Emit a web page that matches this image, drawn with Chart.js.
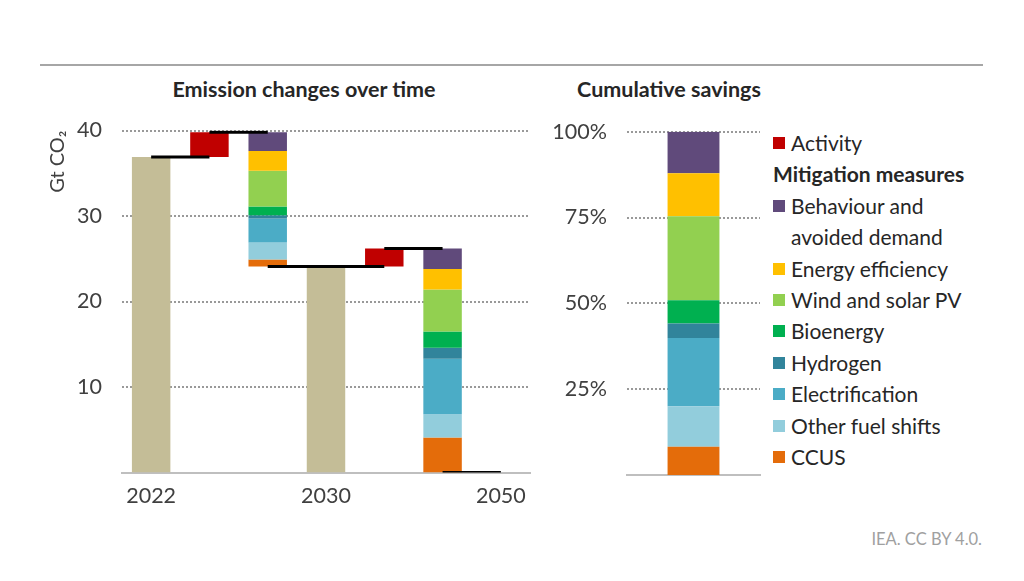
<!DOCTYPE html>
<html>
<head>
<meta charset="utf-8">
<script src="https://cdn.jsdelivr.net/npm/chart.js@4/dist/chart.umd.min.js"></script>
<style>
    body { margin: 0; background: #fff; font-family: Lato, "Open Sans", sans-serif; color: #262626; }
    #page { position: relative; width: 1024px; height: 581px; overflow: hidden; }
    .topline { position: absolute; left: 40px; top: 64px; width: 943px; height: 2px; background: #a6a6a6; }
    .title { position: absolute; top: 76px; font-weight: bold; font-size: 21.5px; text-align: center; }
    #leftWrap { position: absolute; left: 40px; top: 100px; width: 500px; height: 420px; }
    #rightWrap { position: absolute; left: 540px; top: 100px; width: 230px; height: 400px; }
    #legend { position: absolute; left: 773px; top: 127px; width: 210px; font-size: 21px; line-height: 31.4px; }
    #legend .item { display: flex; align-items: flex-start; }
    #legend .sq { width: 12px; height: 12px; flex: none; margin: 10px 6px 0 0; }
    #legend .head { font-weight: bold; }
    .source { position: absolute; right: 42px; top: 529px; font-size: 16.5px; color: #a0a0a0; }
</style>
</head>
<body>
<div id="page">
    <div class="topline"></div>
    <div class="title" style="left:139px;width:330px;">Emission changes over time</div>
    <div class="title" style="left:559px;width:220px;">Cumulative savings</div>
    <div id="leftWrap"><canvas id="changesChart"></canvas></div>
    <div id="rightWrap"><canvas id="savingsChart"></canvas></div>
    <div id="legend"></div>
    <div class="source">IEA. CC BY 4.0.</div>
</div>
<script>
const labels = ["2022", "", "", "2030", "", "", "2050"];
const totals = [36.9, null, null, 24.1, null, null, null];
const activity = [null, [36.9, 39.8], null, null, [24.1, 26.2], null, null];

const measureNames = ["Behaviour and avoided demand", "Energy efficiency", "Wind and solar PV", "Bioenergy",
    "Hydrogen", "Electrification", "Other fuel shifts", "CCUS"];
const measureColors = ["#604a7b", "#ffc000", "#92d050", "#00b050", "#31849b", "#4bacc6", "#92cddc", "#e46c0a"];
// Gt CO2 cut by each measure, top of the bar downwards
const cuts2030 = [2.2, 2.3, 4.2, 1.0, 0.4, 2.8, 2.0, 0.8];
const cuts2050 = [2.4, 2.4, 4.9, 1.9, 1.3, 6.5, 2.7, 4.1];
// share of cumulative savings, %
const cumulativeShare = [12.1, 12.5, 24.5, 6.8, 4.2, 19.9, 11.8, 8.2];

const connectors = [
    [36.9, 36.9, null, null, null, null, null],
    [null, 39.8, 39.8, null, null, null, null],
    [null, null, 24.1, 24.1, 24.1, null, null],
    [null, null, null, null, 26.2, 26.2, null],
    [null, null, null, null, null, 0, 0],
];

const yTicksLeft = [10, 20, 30, 40];
const yTicksRight = [25, 50, 75, 100];

const tickFont = { family: "Lato", size: 21.5 };
const tickColor = "#404040";

document.addEventListener("DOMContentLoaded", function () {
    // floating segments for each measure, stacked downwards from the top level
    const segments = measureNames.map(() => [null, null, null, null, null, null, null]);
    let top = activity[1][1];
    cuts2030.forEach((v, i) => { segments[i][2] = [top - v, top]; top -= v; });
    top = activity[4][1];
    cuts2050.forEach((v, i) => { segments[i][5] = [top - v, top]; top -= v; });

    const datasets = [
        { type: "bar", data: totals, backgroundColor: "#c4bd97", grouped: false, order: 2 },
        { type: "bar", label: "Activity", data: activity, backgroundColor: "#c00000", grouped: false, order: 2 },
    ];
    measureNames.forEach((name, i) => {
        datasets.push({ type: "bar", label: name, data: segments[i], backgroundColor: measureColors[i], grouped: false, order: 2 });
    });
    connectors.forEach((c) => {
        datasets.push({ type: "line", data: c, borderColor: "#000", borderWidth: 3, pointRadius: 0, spanGaps: false, order: 0 });
    });

    const ctx = document.getElementById("changesChart").getContext("2d");
    new Chart(ctx, {
        type: "bar",
        data: { labels: labels, datasets: datasets },
        options: {
            responsive: true,
            maintainAspectRatio: false,
            animation: false,
            layout: { padding: { top: 30.5, right: 10, left: 0, bottom: 0 } },
            datasets: { bar: { barPercentage: 0.66, categoryPercentage: 1 } },
            plugins: { legend: { display: false }, tooltip: { enabled: false } },
            scales: {
                x: {
                    grid: { display: false, drawTicks: false },
                    border: { display: true, color: "#bfbfbf", width: 2 },
                    ticks: { font: tickFont, color: tickColor, padding: 11, autoSkip: false, maxRotation: 0 },
                    afterFit: (s) => { s.height = 47.5; },
                },
                y: {
                    min: 0,
                    max: 40,
                    afterBuildTicks: (s) => { s.ticks = yTicksLeft.map((v) => ({ value: v })); },
                    grid: { color: "#999999", lineWidth: 2, drawTicks: false },
                    border: { display: false, dash: [2, 2] },
                    ticks: { font: tickFont, color: tickColor, padding: 20 },
                    title: { display: true, text: "Gt CO₂", align: "end", font: { family: "Lato", size: 20 }, color: tickColor, padding: { top: 6, bottom: 0 } },
                    afterFit: (s) => { s.width = 82; s.paddingTop = 0; s.paddingBottom = 0; },
                },
            },
        },
    });

    // stacked 100% bar, CCUS at the bottom
    const ctx2 = document.getElementById("savingsChart").getContext("2d");
    new Chart(ctx2, {
        type: "bar",
        data: {
            labels: [""],
            datasets: measureNames.map((name, i) => ({
                label: name,
                data: [cumulativeShare[i]],
                backgroundColor: measureColors[i],
            })).reverse(),
        },
        options: {
            responsive: true,
            maintainAspectRatio: false,
            animation: false,
            layout: { padding: { top: 31.7, right: 10, left: 0, bottom: 0 } },
            datasets: { bar: { barPercentage: 0.39, categoryPercentage: 1 } },
            plugins: { legend: { display: false }, tooltip: { enabled: false } },
            scales: {
                x: {
                    stacked: true,
                    grid: { display: false, drawTicks: false },
                    border: { display: true, color: "#bfbfbf", width: 2 },
                    ticks: { display: false },
                    afterFit: (s) => { s.height = 25; },
                },
                y: {
                    stacked: true,
                    min: 0,
                    max: 100,
                    afterBuildTicks: (s) => { s.ticks = yTicksRight.map((v) => ({ value: v })); },
                    grid: { color: "#999999", lineWidth: 2, drawTicks: false },
                    border: { display: false, dash: [2, 2] },
                    ticks: { font: tickFont, color: tickColor, padding: 20, callback: (v) => v + "%" },
                    afterFit: (s) => { s.width = 87; s.paddingTop = 0; s.paddingBottom = 0; },
                },
            },
        },
    });

    // html legend, built from the same names and colours
    const legend = document.getElementById("legend");
    let html = '<div class="item"><span class="sq" style="background:#c00000"></span><span>Activity</span></div>';
    html += '<div class="head">Mitigation measures</div>';
    measureNames.forEach((name, i) => {
        html += '<div class="item"><span class="sq" style="background:' + measureColors[i] + '"></span><span>' + name + "</span></div>";
    });
    legend.innerHTML = html;
});
</script>
</body>
</html>
